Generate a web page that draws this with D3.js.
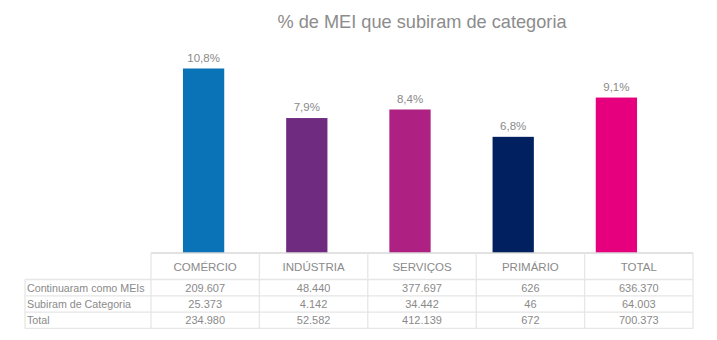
<!DOCTYPE html>
<html>
<head>
<meta charset="utf-8">
<script src="https://cdn.jsdelivr.net/npm/d3@7"></script>
<style>
  body { margin: 0; background: #fff; }
  svg { font-family: "Liberation Sans", Arial, sans-serif; }
</style>
</head>
<body>
<svg id="chart" width="717" height="340"></svg>
<script>
const categories = ["COMÉRCIO", "INDÚSTRIA", "SERVIÇOS", "PRIMÁRIO", "TOTAL"];
const percentages = [10.8, 7.9, 8.4, 6.8, 9.1];
const barColors = ["#0A72B6", "#6F2B80", "#AE2183", "#002060", "#E6007E"];
const rowLabels = ["Continuaram como MEIs", "Subiram de Categoria", "Total"];
const continuaram = ["209.607", "48.440", "377.697", "626", "636.370"];
const subiram = ["25.373", "4.142", "34.442", "46", "64.003"];
const totals = ["234.980", "52.582", "412.139", "672", "700.373"];
const tableRows = [continuaram, subiram, totals];

const svg = d3.select("#chart");
const baseY = 253;
const gridColor = "#E6E6E6";
const textColor = "#8A8A8A";

// columns of the data table (and category labels)
const xCol = d3.scaleBand().domain(categories).range([151, 693]).padding(0);
// bars sit on a slightly narrower band, as in the source chart
const xBar = d3.scaleBand().domain(categories).range([152, 668]).paddingInner(0.6).paddingOuter(0.3);
const y = d3.scaleLinear().domain([0, 12]).range([baseY, 48]);

// title
svg.append("text")
  .attr("x", 422)
  .attr("y", 28)
  .attr("text-anchor", "middle")
  .attr("fill", "#8C8C8C")
  .style("font-size", "18.2px")
  .text("% de MEI que subiram de categoria");

// bars
svg.selectAll(".bar")
  .data(categories)
  .enter()
  .append("rect")
  .attr("class", "bar")
  .attr("x", d => xBar(d))
  .attr("width", xBar.bandwidth())
  .attr("y", (d, i) => y(percentages[i]))
  .attr("height", (d, i) => baseY - y(percentages[i]))
  .attr("fill", (d, i) => barColors[i]);

// value labels
svg.selectAll(".val")
  .data(categories)
  .enter()
  .append("text")
  .attr("class", "val")
  .attr("x", d => xBar(d) + xBar.bandwidth() / 2)
  .attr("y", (d, i) => y(percentages[i]) - 7)
  .attr("text-anchor", "middle")
  .attr("fill", textColor)
  .style("font-size", "11.5px")
  .text((d, i) => percentages[i].toFixed(1).replace(".", ",") + "%");

// table grid
const rowTop = 279.5;
const rowH = 16.3;
const grid = svg.append("g").attr("stroke", gridColor).attr("stroke-width", 1.3);

grid.append("line")
  .attr("x1", 151).attr("x2", 693)
  .attr("y1", baseY).attr("y2", baseY)
  .attr("stroke", "#D9D9D9");

for (let r = 0; r <= rowLabels.length; r++) {
  grid.append("line")
    .attr("x1", 25).attr("x2", 693)
    .attr("y1", rowTop + r * rowH).attr("y2", rowTop + r * rowH);
}

const colEdges = categories.map(d => xCol(d)).concat([693]);
colEdges.forEach(x => {
  grid.append("line")
    .attr("x1", x).attr("x2", x)
    .attr("y1", baseY).attr("y2", rowTop + rowLabels.length * rowH);
});
grid.append("line")
  .attr("x1", 25).attr("x2", 25)
  .attr("y1", rowTop).attr("y2", rowTop + rowLabels.length * rowH);

// category labels
svg.selectAll(".cat")
  .data(categories)
  .enter()
  .append("text")
  .attr("class", "cat")
  .attr("x", d => xCol(d) + xCol.bandwidth() / 2)
  .attr("y", 271)
  .attr("text-anchor", "middle")
  .attr("fill", textColor)
  .style("font-size", "11.5px")
  .text(d => d);

// row labels
svg.selectAll(".rowlab")
  .data(rowLabels)
  .enter()
  .append("text")
  .attr("class", "rowlab")
  .attr("x", 27)
  .attr("y", (d, i) => rowTop + i * rowH + 12)
  .attr("fill", textColor)
  .style("font-size", "10.7px")
  .text(d => d);

// cell values
tableRows.forEach((row, r) => {
  svg.selectAll(".cell" + r)
    .data(row)
    .enter()
    .append("text")
    .attr("x", (d, i) => xCol(categories[i]) + xCol.bandwidth() / 2)
    .attr("y", rowTop + r * rowH + 12)
    .attr("text-anchor", "middle")
    .attr("fill", textColor)
    .style("font-size", "11px")
    .text(d => d);
});
</script>
</body>
</html>
